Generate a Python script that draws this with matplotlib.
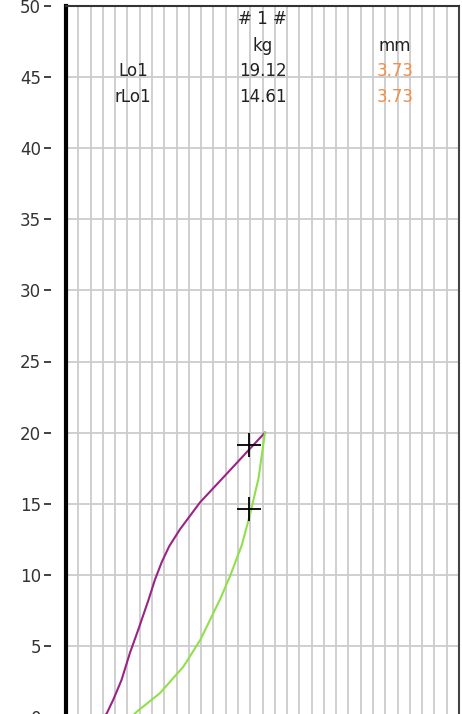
import matplotlib
matplotlib.use("Agg")
import numpy as np
from matplotlib import pyplot as plt

# loading curve (Lo1), mm vs kg
lo_x = [0.76, 0.83, 0.96, 1.13, 1.30, 1.47, 1.68, 1.81, 1.95, 2.10, 2.32, 2.73, 3.27, 3.78, 4.05]
lo_y = [0.0, 0.26, 1.2, 2.6, 4.49, 6.13, 8.24, 9.65, 10.9, 12.0, 13.2, 15.1, 17.1, 19.0, 20.0]
# unloading curve (rLo1)
un_x = [1.33, 1.44, 1.91, 2.39, 2.73, 3.14, 3.35, 3.58, 3.75, 3.92, 4.05]
un_y = [0.0, 0.37, 1.67, 3.54, 5.4, 8.3, 10.0, 12.1, 14.3, 16.8, 20.0]

mark_x = [3.73, 3.73]
mark_y = [19.12, 14.61]

rows = ["Lo1", "rLo1"]
kg_vals = ["19.12", "14.61"]
mm_vals = ["3.73", "3.73"]

fig = plt.figure(figsize=(4.62, 7.14), dpi=100)
ax = fig.add_axes([66/462, -3/714, 393/462, 711/714])

ax.set_xlim(0, 8)
ax.set_ylim(0, 50)
ax.set_xticks(np.arange(0, 8.01, 0.25))
ax.set_yticks(np.arange(0, 51, 5))
ax.grid(True, color="#cccccc", linewidth=1.3)
ax.set_axisbelow(True)

ax.plot(lo_x, lo_y, color="#9a2387", linewidth=1.5)
ax.plot(un_x, un_y, color="#8fe04a", linewidth=1.5)
ax.plot(mark_x, mark_y, "+", color="black", markersize=17, markeredgewidth=1.3)

# left axis: thick black line, ticks detached from it
ax.spines["left"].set_position(("outward", 11))
ax.spines["left"].set_visible(False)
ax.axvline(0, color="black", linewidth=3, clip_on=False)
ax.spines["bottom"].set_visible(False)
ax.spines["top"].set_color("#333333")
ax.spines["right"].set_color("#444444")
ax.spines["top"].set_linewidth(1.5)
ax.spines["right"].set_linewidth(1.5)

ax.tick_params(axis="y", length=5, width=1.3, color="#333333", labelsize=12,
               labelcolor="#333333", pad=2)
ax.tick_params(axis="x", length=0, labelbottom=False)

# header table
fs = 12
ax.text(4.0, 49.1, "# 1 #", ha="center", va="center", fontsize=fs, color="#222222")
ax.text(4.0, 47.2, "kg", ha="center", va="center", fontsize=fs, color="#222222")
ax.text(6.7, 47.2, "mm", ha="center", va="center", fontsize=fs, color="#222222")
for i in range(len(rows)):
    yy = 45.4 - 1.8*i
    ax.text(1.36, yy, rows[i], ha="center", va="center", fontsize=fs, color="#222222")
    ax.text(4.0, yy, kg_vals[i], ha="center", va="center", fontsize=fs, color="#222222")
    ax.text(6.7, yy, mm_vals[i], ha="center", va="center", fontsize=fs, color="#f0904a")

fig.savefig("out.png", dpi=100)
